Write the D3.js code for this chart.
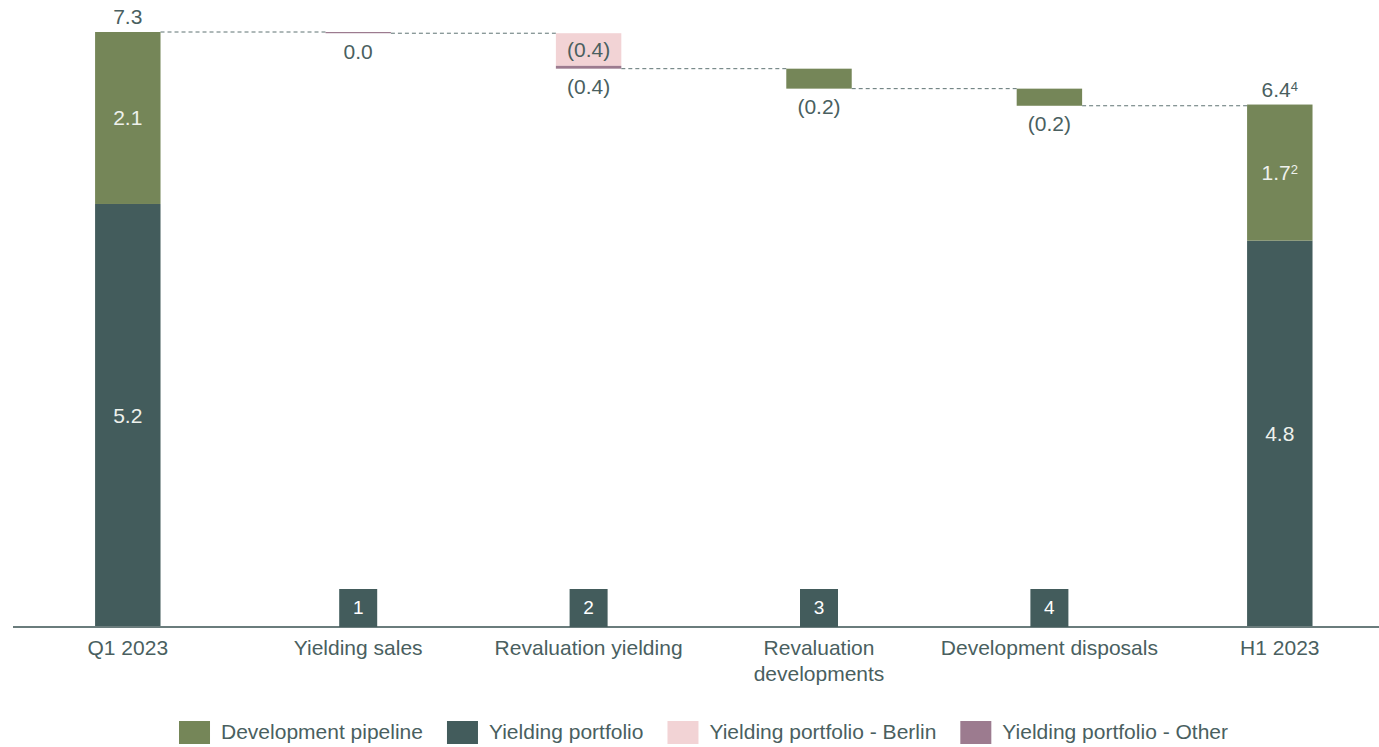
<!DOCTYPE html>
<html><head><meta charset="utf-8">
<script src="https://cdn.jsdelivr.net/npm/d3@7"></script>
<style>
html,body{margin:0;padding:0;background:#fff;}
svg{display:block;font-family:"Liberation Sans",Arial,sans-serif;}
</style></head>
<body><svg id="c" width="1379" height="747"></svg>
<script>
// ---- data ----
const categories = ["Q1 2023","Yielding sales","Revaluation yielding","Revaluation developments","Development disposals","H1 2023"];
const categoryLines = [["Q1 2023"],["Yielding sales"],["Revaluation yielding"],["Revaluation","developments"],["Development disposals"],["H1 2023"]];
const barKind = ["total","delta","delta","delta","delta","total"];
const yieldingPortfolio   = [5.19, null, null, null, null, 4.74];
const developmentPipeline = [2.11, null, null, -0.245, -0.21, 1.67];
const yieldingBerlin      = [null, null, -0.40, null, null, null];
const yieldingOther       = [null, -0.015, -0.035, null, null, null];
const yieldingLabels   = ["5.2", null, null, null, null, "4.8"];
const pipelineLabels   = ["2.1", null, null, "(0.2)", "(0.2)", "1.7^2"];
const berlinLabels     = [null, null, "(0.4)", null, null, null];
const otherLabels      = [null, "0.0", "(0.4)", null, null, null];
const totalLabels      = ["7.3", null, null, null, null, "6.4^4"];
const noteNumbers      = [null, "1", "2", "3", "4", null];
const seriesNames = ["Development pipeline","Yielding portfolio","Yielding portfolio - Berlin","Yielding portfolio - Other"];

// ---- styles ----
const colors = {
  "Development pipeline":"#758658",
  "Yielding portfolio":"#435c5c",
  "Yielding portfolio - Berlin":"#f2d3d5",
  "Yielding portfolio - Other":"#9c7b8f"
};
const textColor = "#4a5f5f";
const fontSize = 21;

const svg = d3.select("#c");
const x = d3.scaleBand().domain(categories).range([12.6, 1395]).paddingInner(0.716).paddingOuter(0.358);
const y = d3.scaleLinear().domain([0, 7.3]).range([627, 32]);
const bw = x.bandwidth();

const stackOrder = [
  {name:"Yielding portfolio", vals:yieldingPortfolio, labels:yieldingLabels},
  {name:"Development pipeline", vals:developmentPipeline, labels:pipelineLabels},
];
const deltaOrder = [
  {name:"Yielding portfolio - Berlin", vals:yieldingBerlin, labels:berlinLabels, inside:true},
  {name:"Yielding portfolio - Other", vals:yieldingOther, labels:otherLabels, inside:false},
  {name:"Development pipeline", vals:developmentPipeline, labels:pipelineLabels, inside:false},
];

const segs = [];
const levels = [];
let running = 0;
categories.forEach((c, i) => {
  if (barKind[i] === "total") {
    let base = 0;
    stackOrder.forEach(s => {
      const v = s.vals[i];
      if (v == null) return;
      segs.push({cat:c, i, name:s.name, y0:base, y1:base+v, label:s.labels[i], pos:"inside"});
      base += v;
    });
    running = base;
    segs.push({cat:c, i, name:null, y0:base, y1:base, label:totalLabels[i], pos:"above"});
  } else {
    deltaOrder.forEach(s => {
      const v = s.vals[i];
      if (v == null) return;
      segs.push({cat:c, i, name:s.name, y0:running, y1:running+v, label:s.labels[i], pos:s.inside?"inside":"below"});
      running += v;
    });
  }
  levels.push(running);
});

// connectors
const conn = svg.append("g");
for (let i = 0; i < categories.length - 1; i++) {
  conn.append("line")
    .attr("x1", x(categories[i]) + bw).attr("x2", x(categories[i+1]))
    .attr("y1", y(levels[i])).attr("y2", y(levels[i]))
    .attr("stroke", "#5f7373").attr("stroke-width", 1).attr("stroke-dasharray", "4,3");
}

// bars
svg.append("g").selectAll("rect").data(segs.filter(d => d.name)).join("rect")
  .attr("x", d => x(d.cat)).attr("width", bw)
  .attr("y", d => y(Math.max(d.y0, d.y1)))
  .attr("height", d => Math.max(1.2, Math.abs(y(d.y0) - y(d.y1))))
  .attr("fill", d => colors[d.name]);

// labels
function writeLabel(sel, str, supSize) {
  const parts = str.split("^");
  sel.append("tspan").text(parts[0]);
  if (parts[1]) sel.append("tspan").attr("font-size", supSize).attr("dy", -6).text(parts[1]);
}
const lab = svg.append("g").attr("font-size", fontSize).attr("text-anchor", "middle");
segs.filter(d => d.label).forEach(d => {
  const cx = x(d.cat) + bw/2;
  const top = y(Math.max(d.y0, d.y1)), bot = y(Math.min(d.y0, d.y1));
  let ty, fill = textColor;
  if (d.pos === "inside") {
    ty = (top + bot)/2;
    if (d.name !== "Yielding portfolio - Berlin") fill = "#eef1ec";
  } else if (d.pos === "above") ty = top - 15;
  else ty = bot + 18;
  const t = lab.append("text").attr("x", cx).attr("y", ty).attr("dy", "0.35em").attr("fill", fill);
  writeLabel(t, d.label, 13);
});

// axis
svg.append("line").attr("x1", 13).attr("x2", 1379).attr("y1", 627).attr("y2", 627)
  .attr("stroke", "#6a7c7c").attr("stroke-width", 2);

// note boxes
const nb = svg.append("g");
categories.forEach((c, i) => {
  if (!noteNumbers[i]) return;
  const cx = x(c) + bw/2;
  nb.append("rect").attr("x", cx - 19).attr("y", 589).attr("width", 38).attr("height", 38).attr("fill", "#435c5c");
  nb.append("text").attr("x", cx).attr("y", 607).attr("dy", "0.35em").attr("text-anchor", "middle")
    .attr("font-size", 19).attr("fill", "#ffffff").text(noteNumbers[i]);
});

// category labels
const cl = svg.append("g").attr("font-size", fontSize).attr("text-anchor", "middle").attr("fill", textColor);
categories.forEach((c, i) => {
  const t = cl.append("text").attr("x", x(c) + bw/2).attr("y", 648);
  categoryLines[i].forEach((ln, k) => t.append("tspan").attr("x", x(c) + bw/2).attr("dy", k === 0 ? "0.35em" : 26).text(ln));
});

// legend
const lg = svg.append("g").attr("font-size", fontSize).attr("fill", textColor);
const items = [];
seriesNames.forEach(n => {
  const g = lg.append("g");
  g.append("rect").attr("x", 0).attr("y", 721).attr("width", 31).attr("height", 23).attr("fill", colors[n]);
  const t = g.append("text").attr("x", 42).attr("y", 732).attr("dy", "0.35em").text(n);
  const w = 42 + t.node().getComputedTextLength();
  items.push({g, w});
});
const gap = 24;
const total = d3.sum(items, d => d.w) + gap * (items.length - 1);
let lx = 703.5 - total/2;
items.forEach(it => { it.g.attr("transform", `translate(${lx},0)`); lx += it.w + gap; });
</script></body></html>
